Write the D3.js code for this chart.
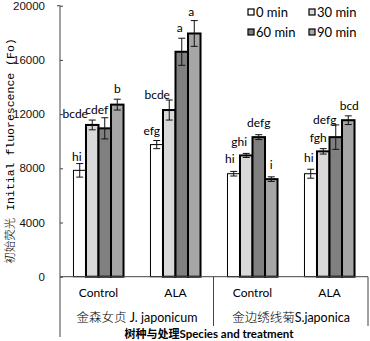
<!DOCTYPE html>
<html>
<head>
<meta charset="utf-8">
<script src="https://cdn.jsdelivr.net/npm/d3@7"></script>
<style>
  body { margin: 0; background: #fff; }
  svg { display: block; }
</style>
</head>
<body>
<div id="chart"></div>
<script>
// 그룹(수종 x 처리) 과 시간별 초기 형광값 Fo
const groups = ['jControl', 'jALA', 'sControl', 'sALA'];
const groupLabels = ['Control', 'ALA', 'Control', 'ALA'];
const speciesCn = ['金森女贞', '金边绣线菊'];
const speciesEn = [' J. japonicum', 'S.japonica'];
const times = ['0 min', '30 min', '60 min', '90 min'];

const mean0 = [7850, 9750, 7600, 7600];
const mean30 = [11200, 12300, 8950, 9250];
const mean60 = [10950, 16600, 10300, 10300];
const mean90 = [12700, 17950, 7200, 11550];

const err0 = [500, 300, 170, 330];
const err30 = [360, 740, 150, 200];
const err60 = [780, 1000, 180, 900];
const err90 = [400, 950, 170, 320];

const sig0 = ['hi', 'efg', 'hi', 'hi'];
const sig30 = ['bcde', 'bcde', 'ghi', 'fgh'];
const sig60 = ['cdef', 'a', 'defg', 'defg'];
const sig90 = ['b', 'a', 'i', 'bcd'];

const yTicks = [0, 4000, 8000, 12000, 16000, 20000];

// 라벨 겹침 보정 (px)
const labelDx = [[-3, -5, -4, -2], [-17, -12, -7, -5], [-8, -2, 0, -11], [0, -3, 0, 1]];
const labelDy = [[-3, -6, -8, -7], [-2, -1, -7, -7], [-4, -6, -8, -1], [-6, -5, -8, -6]];

const means = [mean0, mean30, mean60, mean90];
const errs = [err0, err30, err60, err90];
const sigs = [sig0, sig30, sig60, sig90];
const fills = ['#ffffff', '#d9d9d9', '#808080', '#a6a6a6'];

const width = 370, height = 341;
const left = 60, right = 368, bottom = 276.7;

const svg = d3.select('#chart').append('svg')
    .attr('width', width)
    .attr('height', height);

const y = d3.scaleLinear().domain([0, 20000]).range([bottom, 5.7]);

const x0 = d3.scaleBand().domain(groups).range([left, right])
    .paddingInner(0.35).paddingOuter(0.175);
const x1 = d3.scaleBand().domain(times).range([0, x0.bandwidth()]);

// 막대 데이터
const rows = [];
groups.forEach((g, gi) => {
    times.forEach((t, ti) => {
        rows.push({ g, gi, t, ti, v: means[ti][gi], e: errs[ti][gi], s: sigs[ti][gi] });
    });
});

const plot = svg.append('g');

plot.selectAll('rect.bar')
    .data(rows)
    .enter()
    .append('rect')
    .attr('class', 'bar')
    .attr('x', d => x0(d.g) + x1(d.t))
    .attr('y', d => y(d.v))
    .attr('width', x1.bandwidth())
    .attr('height', d => y(0) - y(d.v))
    .attr('fill', d => fills[d.ti])
    .attr('stroke', '#000')
    .attr('stroke-width', d => d.ti === 0 ? 1 : 2);

// 오차 막대
const cx = d => x0(d.g) + x1(d.t) + x1.bandwidth() / 2;
const eb = plot.selectAll('g.err').data(rows).enter().append('g')
    .attr('class', 'err')
    .attr('stroke', '#111')
    .attr('stroke-width', 1);
eb.append('line')
    .attr('x1', cx).attr('x2', cx)
    .attr('y1', d => y(d.v + d.e)).attr('y2', d => y(d.v - d.e));
eb.append('line')
    .attr('x1', d => cx(d) - 3.5).attr('x2', d => cx(d) + 3.5)
    .attr('y1', d => y(d.v + d.e)).attr('y2', d => y(d.v + d.e));
eb.append('line')
    .attr('x1', d => cx(d) - 3.5).attr('x2', d => cx(d) + 3.5)
    .attr('y1', d => y(d.v - d.e)).attr('y2', d => y(d.v - d.e));

// 유의성 문자
plot.selectAll('text.sig')
    .data(rows)
    .enter()
    .append('text')
    .attr('class', 'sig')
    .attr('x', d => cx(d) + labelDx[d.ti][d.gi])
    .attr('y', d => y(d.v + d.e) + labelDy[d.ti][d.gi])
    .attr('text-anchor', 'middle')
    .attr('font-family', 'Lato, sans-serif')
    .attr('font-size', '12px')
    .attr('fill', '#000')
    .text(d => d.s);

// Y 축
const yAxis = svg.append('g')
    .attr('transform', `translate(${left},0)`)
    .call(d3.axisLeft(y).tickValues(yTicks).tickSize(-3).tickPadding(15).tickFormat(d3.format('d')));
yAxis.select('.domain').attr('stroke', '#444').attr('d', `M-3,${y(20000)}H0V${bottom}`);
yAxis.selectAll('.tick line').attr('stroke', '#444');
yAxis.selectAll('.tick text')
    .attr('font-family', '"Liberation Sans", Arial, sans-serif')
    .attr('font-size', '11.5px')
    .attr('fill', '#111');

// X 축 (2단 라벨)
const xg = svg.append('g').attr('stroke', '#444').attr('stroke-width', 1);
xg.append('line').attr('x1', left).attr('x2', right).attr('y1', bottom).attr('y2', bottom);
xg.append('line').attr('x1', left).attr('x2', left).attr('y1', bottom).attr('y2', 337);
xg.append('line').attr('x1', x0.step() * 2 + left - 0.5).attr('x2', x0.step() * 2 + left - 0.5)
    .attr('y1', bottom).attr('y2', 326);
xg.append('line').attr('x1', right).attr('x2', right).attr('y1', bottom).attr('y2', 326);

svg.selectAll('text.glabel')
    .data(groups)
    .enter()
    .append('text')
    .attr('class', 'glabel')
    .attr('x', d => x0(d) + x0.bandwidth() / 2)
    .attr('y', 297)
    .attr('text-anchor', 'middle')
    .attr('font-family', 'Lato, sans-serif')
    .attr('font-size', '12px')
    .text((d, i) => groupLabels[i]);

const sp = svg.selectAll('text.species')
    .data(speciesCn)
    .enter()
    .append('text')
    .attr('class', 'species')
    .attr('x', (d, i) => left + x0.step() * (2 * i + 1))
    .attr('y', 322)
    .attr('text-anchor', 'middle')
    .attr('font-size', '12.5px');
sp.append('tspan')
    .attr('font-family', '"Noto Sans CJK SC", sans-serif')
    .attr('font-weight', 300)
    .text(d => d);
sp.append('tspan')
    .attr('font-family', 'Lato, sans-serif')
    .text((d, i) => speciesEn[i]);

const xt = svg.append('text')
    .attr('x', 209)
    .attr('y', 338)
    .attr('text-anchor', 'middle')
    .attr('font-size', '11px')
    .attr('font-weight', 'bold');
xt.append('tspan').attr('font-family', '"Noto Sans CJK SC", sans-serif').text('树种与处理');
xt.append('tspan').attr('font-family', 'Lato, sans-serif').attr('font-size', '11.5px').text('Species and treatment');

// Y 축 제목
const yt = svg.append('text')
    .attr('transform', 'translate(14,151) rotate(-90)')
    .attr('text-anchor', 'middle')
    .attr('font-size', '11.5px');
yt.append('tspan').attr('font-family', '"Noto Sans CJK SC", sans-serif').attr('font-weight', 300).text('初始荧光');
yt.append('tspan').attr('font-family', '"Liberation Mono", monospace').text(' Initial fluorescence (Fo)');

// 범례
const legend = svg.append('g');
const li = legend.selectAll('g.item')
    .data(times)
    .enter()
    .append('g')
    .attr('class', 'item')
    .attr('transform', (d, i) => `translate(${i % 2 === 0 ? 248 : 309},${i < 2 ? 9 : 29})`);
li.append('rect')
    .attr('width', 6).attr('height', 6)
    .attr('fill', (d, i) => fills[i])
    .attr('stroke', '#000')
    .attr('stroke-width', 1.2);
li.append('text')
    .attr('x', 8)
    .attr('y', 7.5)
    .attr('font-family', 'Lato, sans-serif')
    .attr('font-size', '13px')
    .text(d => d);
</script>
</body>
</html>
